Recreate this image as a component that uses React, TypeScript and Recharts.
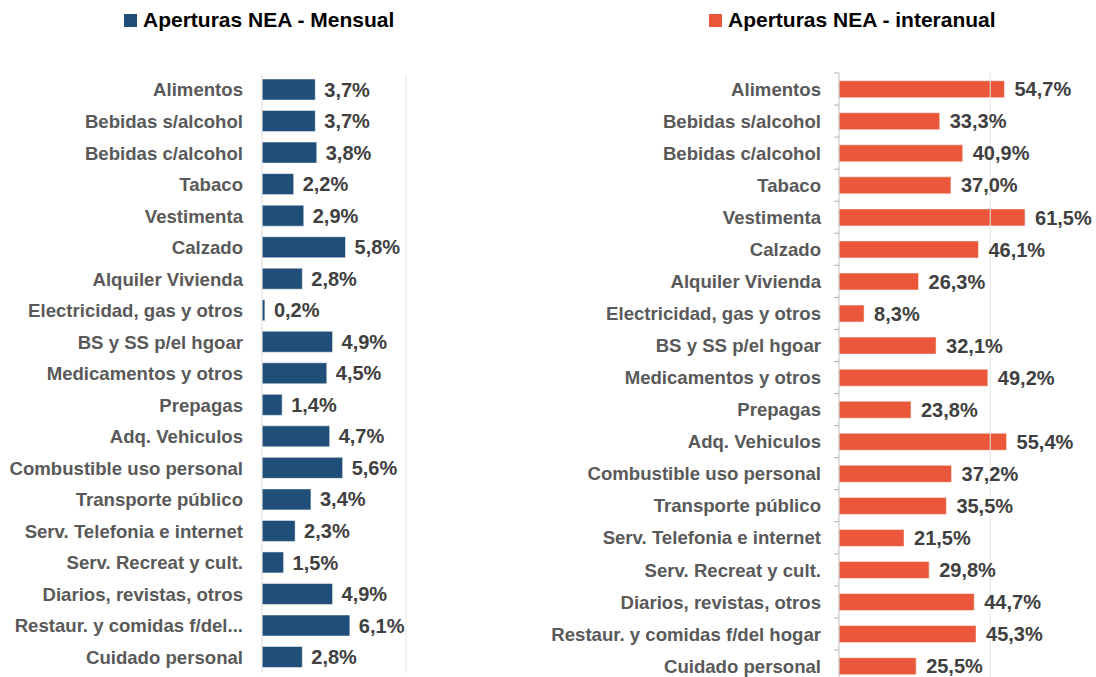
import React from "react";
import { BarChart, Bar, XAxis, YAxis, LabelList, ReferenceLine } from "recharts";

const categoriesLeft = [
  "Alimentos", "Bebidas s/alcohol", "Bebidas c/alcohol", "Tabaco", "Vestimenta", "Calzado",
  "Alquiler Vivienda", "Electricidad, gas y otros", "BS y SS p/el hgoar", "Medicamentos y otros",
  "Prepagas", "Adq. Vehiculos", "Combustible uso personal", "Transporte público",
  "Serv. Telefonia e internet", "Serv. Recreat y cult.", "Diarios, revistas, otros",
  "Restaur. y comidas f/del...", "Cuidado personal",
];
const categoriesRight = [
  "Alimentos", "Bebidas s/alcohol", "Bebidas c/alcohol", "Tabaco", "Vestimenta", "Calzado",
  "Alquiler Vivienda", "Electricidad, gas y otros", "BS y SS p/el hgoar", "Medicamentos y otros",
  "Prepagas", "Adq. Vehiculos", "Combustible uso personal", "Transporte público",
  "Serv. Telefonia e internet", "Serv. Recreat y cult.", "Diarios, revistas, otros",
  "Restaur. y comidas f/del hogar", "Cuidado personal",
];
const mensual = [3.7, 3.7, 3.8, 2.2, 2.9, 5.8, 2.8, 0.2, 4.9, 4.5, 1.4, 4.7, 5.6, 3.4, 2.3, 1.5, 4.9, 6.1, 2.8];
const interanual = [54.7, 33.3, 40.9, 37.0, 61.5, 46.1, 26.3, 8.3, 32.1, 49.2, 23.8, 55.4, 37.2, 35.5, 21.5, 29.8, 44.7, 45.3, 25.5];

const leftSeriesName = "Aperturas NEA - Mensual";
const rightSeriesName = "Aperturas NEA - interanual";

const dataLeft = categoriesLeft.map((c, i) => ({ cat: c, v: mensual[i] }));
const dataRight = categoriesRight.map((c, i) => ({ cat: c, v: interanual[i] }));

const FONT = "'Liberation Sans', Arial, sans-serif";
const BLUE = "#1F4E79";
const ORANGE = "#EB573A";

const fmt = (v: any) => Number(v).toFixed(1).replace(".", ",") + "%";

const makeTick = (axisX: number, band: number, withTicks: boolean, count: number) => (props: any) => {
  const { x, y, payload, index } = props;
  return (
    <g>
      <text x={x} y={y} dy="0.36em" textAnchor="end" fill="#595959" fontFamily={FONT} fontWeight="bold" fontSize={18.6}>
        {payload.value}
      </text>
      {withTicks && (
        <line x1={axisX - 5} x2={axisX} y1={y - band / 2} y2={y - band / 2} stroke="#b0b0b0" strokeWidth={1} />
      )}
      {withTicks && index === count - 1 && (
        <line x1={axisX - 5} x2={axisX} y1={y + band / 2} y2={y + band / 2} stroke="#b0b0b0" strokeWidth={1} />
      )}
    </g>
  );
};

const LegendBox = ({ name, color, left }: { name: string; color: string; left: number }) => (
  <div style={{ position: "absolute", left, top: 7, display: "flex", alignItems: "center", fontFamily: FONT, fontWeight: "bold", fontSize: 21, lineHeight: "26px", color: "#000", whiteSpace: "nowrap" }}>
    <span style={{ display: "inline-block", width: 13, height: 13, background: color, marginRight: 6 }} />
    <span>{name}</span>
  </div>
);

export default function App() {
  const leftW = 420;
  const leftH = 677;
  const leftMargin = { top: 74, right: 14, bottom: 4, left: 0 };
  const leftYW = 262;
  const leftBand = (leftH - leftMargin.top - leftMargin.bottom) / categoriesLeft.length;

  const rightW = 556;
  const rightH = 690;
  const rightMargin = { top: 73, right: 15, bottom: 8, left: 0 };
  const rightYW = 299;
  const rightBand = (rightH - rightMargin.top - rightMargin.bottom) / categoriesRight.length;

  return (
    <div style={{ position: "absolute", left: 0, top: 0, width: 1096, height: 677, overflow: "hidden", background: "#fff" }}>
      <div style={{ position: "absolute", left: 0, top: 0 }}>
        <BarChart width={leftW} height={leftH} data={dataLeft} layout="vertical" margin={leftMargin} barCategoryGap="16%">
          <XAxis type="number" domain={[0, 10]} hide />
          <YAxis
            type="category"
            dataKey="cat"
            width={leftYW}
            interval={0}
            tickLine={false}
            tickSize={4}
            tickMargin={15}
            axisLine={{ stroke: "#d9d9d9" }}
            tick={makeTick(leftMargin.left + leftYW, leftBand, false, categoriesLeft.length)}
          />
          <ReferenceLine x={10} stroke="#e6e6e6" />
          <Bar dataKey="v" name={leftSeriesName} fill={BLUE} stroke="#ffffff" strokeWidth={0.5} isAnimationActive={false}>
            <LabelList dataKey="v" position="right" offset={9} formatter={fmt} fill="#404040" fontFamily={FONT} fontWeight="bold" fontSize={20} />
          </Bar>
        </BarChart>
      </div>
      <div style={{ position: "absolute", left: 540, top: 0 }}>
        <BarChart width={rightW} height={rightH} data={dataRight} layout="vertical" margin={rightMargin} barCategoryGap="24%">
          <XAxis type="number" domain={[0, 80]} hide />
          <YAxis
            type="category"
            dataKey="cat"
            width={rightYW}
            interval={0}
            tickLine={false}
            tickSize={4}
            tickMargin={14}
            axisLine={{ stroke: "#bfbfbf" }}
            tick={makeTick(rightMargin.left + rightYW, rightBand, true, categoriesRight.length)}
          />
          <ReferenceLine x={50} stroke="#e6e6e6" />
          <Bar dataKey="v" name={rightSeriesName} fill={ORANGE} stroke="#ffffff" strokeWidth={0.5} isAnimationActive={false}>
            <LabelList dataKey="v" position="right" offset={10} formatter={fmt} fill="#404040" fontFamily={FONT} fontWeight="bold" fontSize={20} />
          </Bar>
        </BarChart>
      </div>
      <LegendBox name={leftSeriesName} color={BLUE} left={124} />
      <LegendBox name={rightSeriesName} color={ORANGE} left={709} />
    </div>
  );
}
